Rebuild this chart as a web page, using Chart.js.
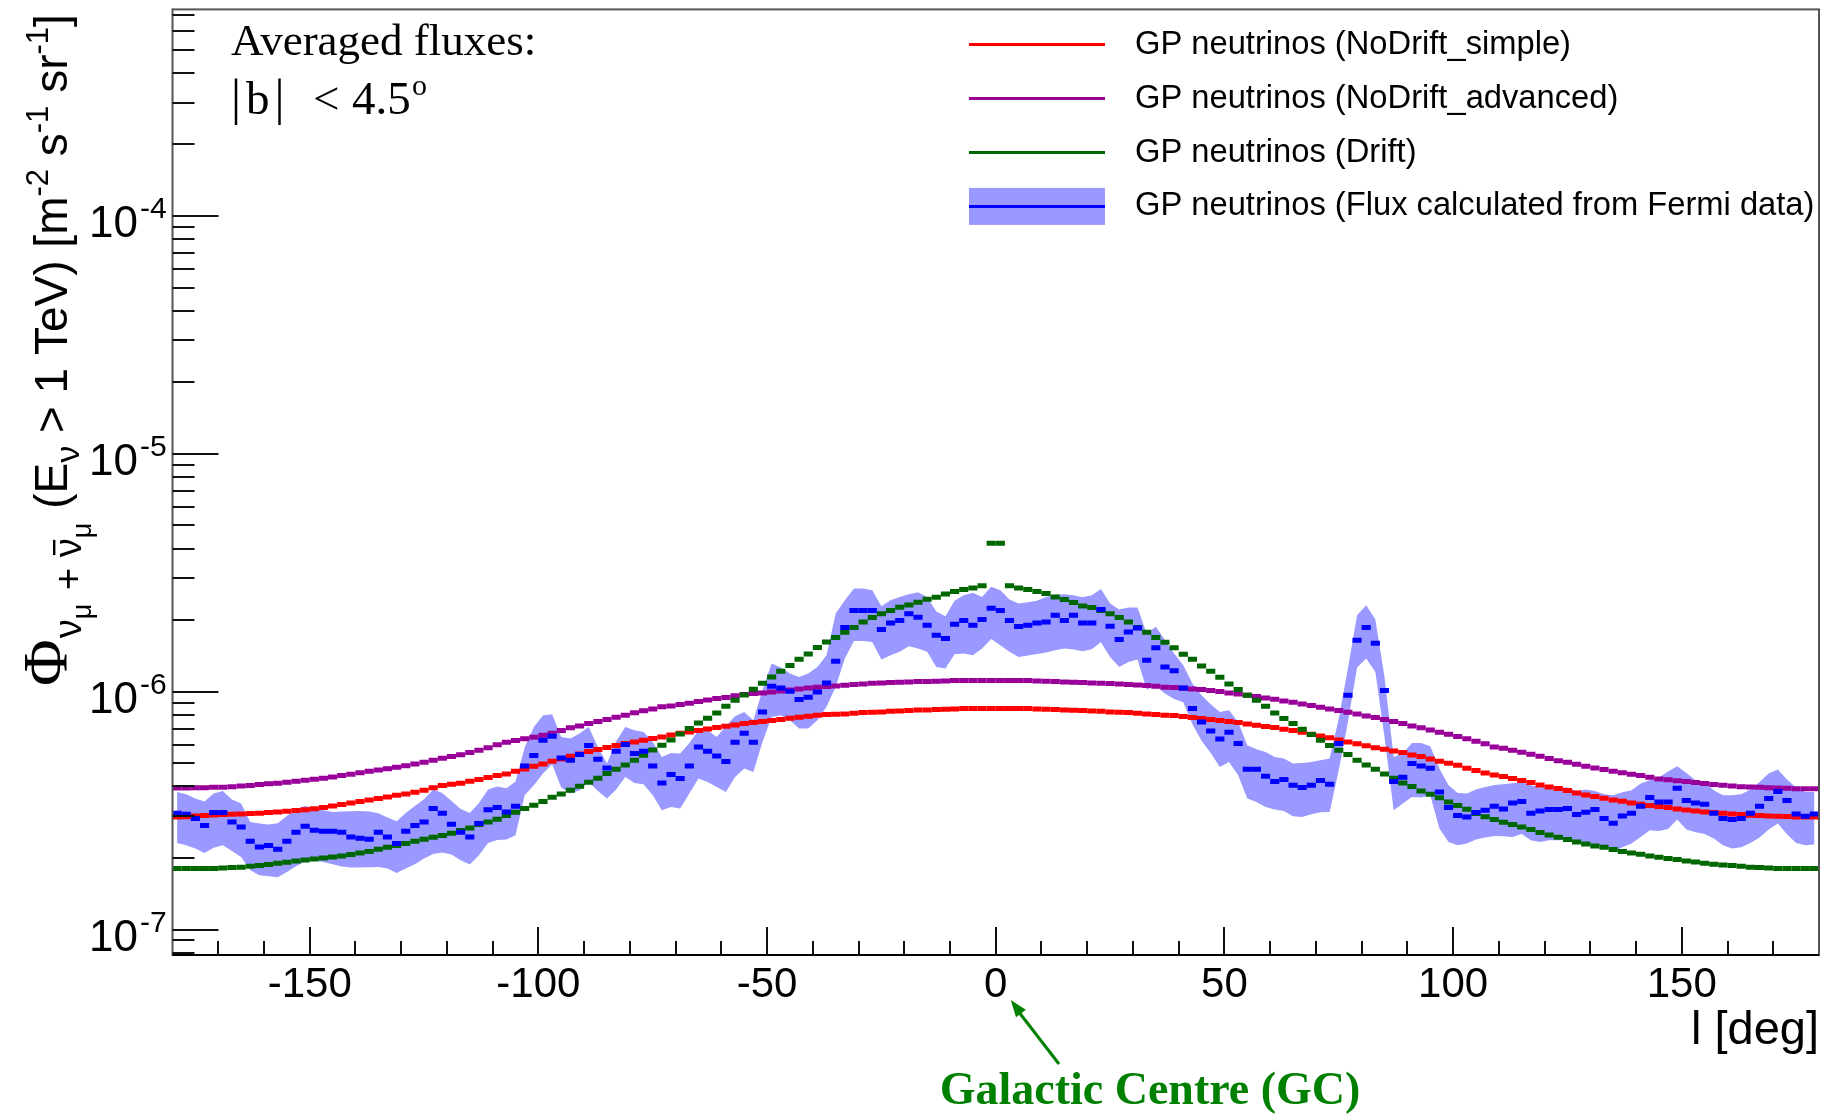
<!DOCTYPE html>
<html><head><meta charset="utf-8">
<script src="https://cdn.jsdelivr.net/npm/chart.js@4/dist/chart.umd.min.js"></script>
<style>html,body{margin:0;padding:0;background:#fff;overflow:hidden}#wrap{position:relative;width:1839px;height:1116px}</style>
</head><body><div id="wrap"><canvas id="c"></canvas></div>
<script>
// Galactic longitude bin centres [deg] (2 deg bins)
const longitudeDeg = [
-179,-177,-175,-173,-171,-169,-167,-165,-163,-161,-159,-157,-155,-153,-151,-149,-147,-145,-143,-141,
-139,-137,-135,-133,-131,-129,-127,-125,-123,-121,-119,-117,-115,-113,-111,-109,-107,-105,-103,-101,
-99,-97,-95,-93,-91,-89,-87,-85,-83,-81,-79,-77,-75,-73,-71,-69,-67,-65,-63,-61,
-59,-57,-55,-53,-51,-49,-47,-45,-43,-41,-39,-37,-35,-33,-31,-29,-27,-25,-23,-21,
-19,-17,-15,-13,-11,-9,-7,-5,-3,-1,1,3,5,7,9,11,13,15,17,19,
21,23,25,27,29,31,33,35,37,39,41,43,45,47,49,51,53,55,57,59,
61,63,65,67,69,71,73,75,77,79,81,83,85,87,89,91,93,95,97,99,
101,103,105,107,109,111,113,115,117,119,121,123,125,127,129,131,133,135,137,139,
141,143,145,147,149,151,153,155,157,159,161,163,165,167,169,171,173,175,177,179];

// GP neutrinos (NoDrift_simple) [m^-2 s^-1 sr^-1]
const noDriftSimple = [
2.976e-7,2.985e-7,3.005e-7,3.015e-7,3.035e-7,3.045e-7,3.055e-7,3.065e-7,3.075e-7,3.085e-7,3.105e-7,3.125e-7,
3.146e-7,3.166e-7,3.187e-7,3.218e-7,3.259e-7,3.312e-7,3.355e-7,3.409e-7,3.454e-7,3.510e-7,3.555e-7,3.613e-7,
3.672e-7,3.720e-7,3.781e-7,3.855e-7,3.943e-7,4.033e-7,4.08e-7,4.12e-7,4.20e-7,4.28e-7,4.36e-7,4.44e-7,
4.513e-7,4.631e-7,4.737e-7,4.861e-7,4.972e-7,5.101e-7,5.219e-7,5.354e-7,5.476e-7,5.603e-7,5.713e-7,5.824e-7,
5.938e-7,6.053e-7,6.152e-7,6.252e-7,6.353e-7,6.457e-7,6.584e-7,6.691e-7,6.778e-7,6.866e-7,6.978e-7,7.069e-7,
7.161e-7,7.254e-7,7.348e-7,7.420e-7,7.492e-7,7.564e-7,7.638e-7,7.738e-7,7.813e-7,7.889e-7,7.966e-7,8.017e-7,
8.043e-7,8.069e-7,8.121e-7,8.173e-7,8.200e-7,8.226e-7,8.279e-7,8.306e-7,8.333e-7,8.387e-7,8.387e-7,8.414e-7,
8.441e-7,8.469e-7,8.496e-7,8.496e-7,8.496e-7,8.496e-7,8.496e-7,8.496e-7,8.496e-7,8.496e-7,8.469e-7,8.441e-7,
8.414e-7,8.387e-7,8.360e-7,8.333e-7,8.306e-7,8.279e-7,8.226e-7,8.200e-7,8.173e-7,8.121e-7,8.069e-7,8.017e-7,
7.966e-7,7.940e-7,7.863e-7,7.787e-7,7.712e-7,7.638e-7,7.564e-7,7.492e-7,7.420e-7,7.324e-7,7.230e-7,7.138e-7,
7.069e-7,6.956e-7,6.866e-7,6.757e-7,6.628e-7,6.522e-7,6.40e-7,6.27e-7,6.15e-7,6.04e-7,5.93e-7,5.82e-7,
5.73e-7,5.64e-7,5.548e-7,5.425e-7,5.338e-7,5.219e-7,5.103e-7,5.004e-7,4.909e-7,4.769e-7,4.662e-7,4.558e-7,
4.470e-7,4.398e-7,4.313e-7,4.230e-7,4.150e-7,4.058e-7,3.980e-7,3.916e-7,3.841e-7,3.755e-7,3.683e-7,3.624e-7,
3.566e-7,3.509e-7,3.464e-7,3.408e-7,3.365e-7,3.322e-7,3.289e-7,3.258e-7,3.216e-7,3.185e-7,3.154e-7,3.124e-7,
3.104e-7,3.084e-7,3.064e-7,3.045e-7,3.025e-7,3.015e-7,3.005e-7,2.996e-7,2.986e-7,2.976e-7,2.976e-7,2.976e-7];

// GP neutrinos (NoDrift_advanced)
const noDriftAdvanced = [
3.94e-7,3.94e-7,3.95e-7,3.95e-7,3.97e-7,3.97e-7,3.99e-7,4.02e-7,4.03e-7,4.07e-7,4.10e-7,4.12e-7,
4.16e-7,4.20e-7,4.24e-7,4.29e-7,4.33e-7,4.38e-7,4.44e-7,4.50e-7,4.56e-7,4.63e-7,4.69e-7,4.75e-7,
4.82e-7,4.89e-7,4.97e-7,5.05e-7,5.15e-7,5.25e-7,5.34e-7,5.44e-7,5.55e-7,5.68e-7,5.82e-7,5.98e-7,
6.13e-7,6.23e-7,6.34e-7,6.44e-7,6.56e-7,6.69e-7,6.87e-7,7.05e-7,7.18e-7,7.35e-7,7.49e-7,7.64e-7,
7.81e-7,7.96e-7,8.15e-7,8.31e-7,8.47e-7,8.64e-7,8.72e-7,8.83e-7,8.95e-7,9.09e-7,9.24e-7,9.36e-7,
9.45e-7,9.63e-7,9.73e-7,9.82e-7,9.89e-7,9.98e-7,10.08e-7,10.18e-7,10.28e-7,10.38e-7,10.45e-7,10.51e-7,
10.58e-7,10.65e-7,10.72e-7,10.79e-7,10.86e-7,10.89e-7,10.93e-7,10.96e-7,11.00e-7,11.03e-7,11.03e-7,11.07e-7,
11.10e-7,11.14e-7,11.14e-7,11.14e-7,11.14e-7,11.14e-7,11.14e-7,11.14e-7,11.14e-7,11.14e-7,11.10e-7,11.07e-7,
11.03e-7,11.00e-7,10.96e-7,10.93e-7,10.89e-7,10.86e-7,10.82e-7,10.79e-7,10.72e-7,10.68e-7,10.61e-7,10.55e-7,
10.45e-7,10.41e-7,10.34e-7,10.28e-7,10.21e-7,10.11e-7,10.02e-7,9.89e-7,9.79e-7,9.67e-7,9.54e-7,9.42e-7,
9.30e-7,9.15e-7,9.03e-7,8.89e-7,8.75e-7,8.61e-7,8.47e-7,8.33e-7,8.20e-7,8.07e-7,7.91e-7,7.79e-7,
7.64e-7,7.49e-7,7.35e-7,7.18e-7,7.05e-7,6.91e-7,6.76e-7,6.63e-7,6.48e-7,6.34e-7,6.19e-7,6.05e-7,
5.86e-7,5.78e-7,5.68e-7,5.57e-7,5.46e-7,5.36e-7,5.24e-7,5.13e-7,5.05e-7,4.96e-7,4.86e-7,4.78e-7,
4.71e-7,4.63e-7,4.56e-7,4.50e-7,4.44e-7,4.37e-7,4.30e-7,4.27e-7,4.22e-7,4.19e-7,4.15e-7,4.11e-7,
4.07e-7,4.04e-7,4.02e-7,3.99e-7,3.98e-7,3.97e-7,3.95e-7,3.94e-7,3.93e-7,3.91e-7,3.91e-7,3.91e-7];

// GP neutrinos (Drift)
const drift = [
1.805e-7,1.805e-7,1.805e-7,1.805e-7,1.805e-7,1.816e-7,1.822e-7,1.828e-7,1.846e-7,1.858e-7,1.876e-7,1.900e-7,
1.919e-7,1.944e-7,1.963e-7,1.982e-7,2.001e-7,2.021e-7,2.040e-7,2.067e-7,2.101e-7,2.128e-7,2.177e-7,2.219e-7,
2.255e-7,2.299e-7,2.352e-7,2.398e-7,2.445e-7,2.485e-7,2.541e-7,2.608e-7,2.676e-7,2.763e-7,2.836e-7,2.910e-7,
3.015e-7,3.114e-7,3.226e-7,3.332e-7,3.452e-7,3.600e-7,3.718e-7,3.852e-7,4.004e-7,4.162e-7,4.327e-7,4.528e-7,
4.722e-7,4.924e-7,5.152e-7,5.408e-7,5.694e-7,5.957e-7,6.272e-7,6.647e-7,7.000e-7,7.395e-7,7.738e-7,8.147e-7,
8.690e-7,9.211e-7,9.698e-7,10.24e-7,10.86e-7,11.54e-7,12.20e-7,12.88e-7,13.70e-7,14.42e-7,15.34e-7,16.20e-7,
16.90e-7,17.79e-7,18.61e-7,19.66e-7,20.50e-7,21.25e-7,21.94e-7,22.66e-7,23.18e-7,23.79e-7,24.49e-7,24.97e-7,
25.78e-7,26.38e-7,26.89e-7,27.33e-7,27.87e-7,42.12e-7,42.12e-7,27.87e-7,27.33e-7,26.89e-7,26.38e-7,25.87e-7,
25.05e-7,24.41e-7,23.71e-7,22.96e-7,22.59e-7,21.94e-7,21.25e-7,20.50e-7,19.66e-7,18.61e-7,17.79e-7,16.90e-7,
16.15e-7,15.29e-7,14.38e-7,13.70e-7,12.84e-7,12.20e-7,11.51e-7,10.79e-7,10.21e-7,9.667e-7,9.211e-7,8.690e-7,
8.147e-7,7.713e-7,7.348e-7,6.955e-7,6.604e-7,6.252e-7,5.938e-7,5.675e-7,5.443e-7,5.152e-7,4.924e-7,4.722e-7,
4.513e-7,4.328e-7,4.136e-7,3.992e-7,3.828e-7,3.707e-7,3.587e-7,3.441e-7,3.322e-7,3.205e-7,3.08e-7,2.98e-7,
2.90e-7,2.83e-7,2.763e-7,2.702e-7,2.633e-7,2.557e-7,2.500e-7,2.445e-7,2.390e-7,2.336e-7,2.291e-7,2.247e-7,
2.219e-7,2.169e-7,2.128e-7,2.101e-7,2.074e-7,2.041e-7,2.015e-7,1.988e-7,1.969e-7,1.944e-7,1.925e-7,1.900e-7,
1.882e-7,1.870e-7,1.858e-7,1.846e-7,1.828e-7,1.822e-7,1.816e-7,1.805e-7,1.805e-7,1.805e-7,1.805e-7,1.805e-7];

// GP neutrinos (Flux calculated from Fermi data): central value, band upper, band lower
const fermiFlux = [
3.085e-7,3.055e-7,2.928e-7,2.737e-7,3.105e-7,3.105e-7,2.836e-7,2.702e-7,2.352e-7,2.226e-7,2.255e-7,2.177e-7,
2.352e-7,2.566e-7,2.719e-7,2.616e-7,2.591e-7,2.591e-7,2.566e-7,2.453e-7,2.421e-7,2.398e-7,2.566e-7,2.453e-7,
2.299e-7,2.591e-7,2.737e-7,2.836e-7,3.226e-7,3.085e-7,2.773e-7,2.566e-7,2.453e-7,2.791e-7,3.187e-7,3.259e-7,
3.124e-7,3.300e-7,4.877e-7,5.390e-7,6.252e-7,6.503e-7,5.271e-7,5.152e-7,5.443e-7,5.938e-7,5.201e-7,4.782e-7,
5.621e-7,5.996e-7,5.495e-7,5.621e-7,4.877e-7,4.136e-7,4.484e-7,4.314e-7,4.877e-7,5.861e-7,5.621e-7,5.373e-7,
5.085e-7,6.133e-7,6.691e-7,6.133e-7,8.226e-7,10.55e-7,10.38e-7,10.05e-7,9.27e-7,9.48e-7,9.98e-7,10.89e-7,
13.44e-7,18.61e-7,21.94e-7,21.94e-7,21.94e-7,18.25e-7,19.47e-7,19.92e-7,21.25e-7,20.57e-7,19.04e-7,17.28e-7,
16.73e-7,19.22e-7,19.92e-7,19.04e-7,20.12e-7,22.44e-7,21.94e-7,19.92e-7,18.79e-7,19.04e-7,19.47e-7,19.66e-7,
20.98e-7,19.92e-7,20.98e-7,19.47e-7,19.47e-7,22.15e-7,18.85e-7,16.57e-7,17.85e-7,18.55e-7,13.57e-7,15.29e-7,
12.72e-7,12.24e-7,10.38e-7,8.496e-7,7.468e-7,6.844e-7,6.335e-7,6.756e-7,6.053e-7,4.722e-7,4.722e-7,4.413e-7,
4.190e-7,4.272e-7,4.045e-7,3.954e-7,4.045e-7,4.230e-7,4.083e-7,6.053e-7,9.667e-7,16.47e-7,18.61e-7,15.99e-7,
10.11e-7,4.190e-7,4.370e-7,4.988e-7,4.877e-7,4.768e-7,3.792e-7,3.258e-7,3.015e-7,2.976e-7,3.104e-7,3.175e-7,
3.300e-7,3.216e-7,3.408e-7,3.452e-7,3.083e-7,3.154e-7,3.195e-7,3.195e-7,3.226e-7,3.045e-7,3.114e-7,3.195e-7,
2.929e-7,2.800e-7,3.005e-7,3.083e-7,3.300e-7,3.589e-7,3.441e-7,3.441e-7,3.929e-7,3.486e-7,3.408e-7,3.365e-7,
3.083e-7,2.929e-7,2.901e-7,2.929e-7,3.083e-7,3.300e-7,3.554e-7,3.804e-7,3.486e-7,3.064e-7,2.996e-7,3.064e-7];

const fermiUpper = [
3.792e-7,3.707e-7,3.554e-7,3.452e-7,3.731e-7,3.828e-7,3.520e-7,3.386e-7,2.836e-7,2.791e-7,2.763e-7,2.799e-7,
3.005e-7,3.195e-7,3.311e-7,3.247e-7,3.175e-7,3.124e-7,3.134e-7,3.144e-7,3.154e-7,3.134e-7,3.084e-7,2.957e-7,
2.854e-7,3.094e-7,3.311e-7,3.531e-7,3.878e-7,3.755e-7,3.474e-7,3.216e-7,3.094e-7,3.408e-7,3.878e-7,3.992e-7,
3.929e-7,4.190e-7,5.824e-7,7.114e-7,7.940e-7,8.043e-7,6.457e-7,6.353e-7,6.671e-7,7.114e-7,5.861e-7,4.988e-7,
6.192e-7,7.114e-7,6.889e-7,6.778e-7,6.152e-7,5.320e-7,5.531e-7,5.495e-7,6.093e-7,6.889e-7,6.889e-7,6.457e-7,
7.183e-7,7.889e-7,8.226e-7,7.589e-7,10.15e-7,13.13e-7,12.64e-7,11.93e-7,11.54e-7,11.93e-7,12.72e-7,14.24e-7,
21.32e-7,24.25e-7,27.15e-7,27.15e-7,26.72e-7,22.89e-7,24.25e-7,25.05e-7,25.70e-7,26.20e-7,25.05e-7,21.74e-7,
20.77e-7,24.10e-7,25.46e-7,26.04e-7,25.05e-7,27.60e-7,26.72e-7,24.41e-7,23.49e-7,23.79e-7,24.10e-7,25.05e-7,
25.54e-7,25.70e-7,25.46e-7,24.97e-7,25.46e-7,27.06e-7,23.49e-7,22.16e-7,22.59e-7,22.59e-7,17.57e-7,18.74e-7,
16.47e-7,14.47e-7,12.93e-7,10.82e-7,9.667e-7,8.861e-7,8.226e-7,8.360e-7,7.468e-7,5.959e-7,5.732e-7,5.585e-7,
5.321e-7,5.236e-7,4.988e-7,5.020e-7,5.069e-7,5.152e-7,5.236e-7,7.713e-7,12.52e-7,20.98e-7,23.12e-7,20.12e-7,
11.54e-7,5.321e-7,5.497e-7,6.095e-7,6.095e-7,5.902e-7,4.753e-7,4.045e-7,3.756e-7,3.731e-7,3.878e-7,3.981e-7,
4.058e-7,4.083e-7,4.123e-7,4.163e-7,4.045e-7,3.954e-7,4.005e-7,3.954e-7,3.954e-7,3.828e-7,3.877e-7,3.828e-7,
3.707e-7,3.671e-7,3.779e-7,3.853e-7,4.110e-7,4.245e-7,4.355e-7,4.616e-7,4.861e-7,4.557e-7,4.245e-7,4.150e-7,
3.853e-7,3.671e-7,3.671e-7,3.707e-7,3.877e-7,4.176e-7,4.528e-7,4.706e-7,4.272e-7,3.954e-7,3.792e-7,3.792e-7];

const fermiLower = [
2.314e-7,2.262e-7,2.190e-7,2.101e-7,2.211e-7,2.262e-7,2.141e-7,2.020e-7,1.776e-7,1.692e-7,1.676e-7,1.660e-7,
1.748e-7,1.846e-7,1.931e-7,1.950e-7,1.925e-7,1.882e-7,1.840e-7,1.822e-7,1.822e-7,1.828e-7,1.834e-7,1.805e-7,
1.730e-7,1.805e-7,1.882e-7,1.988e-7,2.080e-7,2.107e-7,2.067e-7,1.956e-7,1.876e-7,2.054e-7,2.314e-7,2.382e-7,
2.390e-7,2.492e-7,3.671e-7,4.045e-7,4.528e-7,4.957e-7,3.955e-7,3.731e-7,3.853e-7,4.177e-7,3.829e-7,3.554e-7,
3.878e-7,4.384e-7,4.137e-7,4.084e-7,3.671e-7,3.175e-7,3.279e-7,3.226e-7,3.731e-7,4.314e-7,4.177e-7,3.981e-7,
3.793e-7,4.384e-7,4.753e-7,4.603e-7,6.152e-7,7.836e-7,7.963e-7,7.589e-7,7.000e-7,7.000e-7,7.589e-7,8.637e-7,
10.48e-7,13.79e-7,16.36e-7,16.36e-7,16.20e-7,13.66e-7,14.24e-7,14.71e-7,15.54e-7,15.19e-7,14.71e-7,12.72e-7,
12.51e-7,14.38e-7,14.47e-7,14.24e-7,15.19e-7,16.68e-7,15.69e-7,14.71e-7,14.01e-7,14.19e-7,14.42e-7,14.61e-7,
14.95e-7,15.19e-7,15.04e-7,14.80e-7,15.09e-7,16.15e-7,14.01e-7,12.72e-7,13.35e-7,13.66e-7,10.21e-7,10.58e-7,
9.824e-7,9.331e-7,9.035e-7,7.302e-7,6.215e-7,5.533e-7,4.831e-7,5.070e-7,4.457e-7,3.554e-7,3.441e-7,3.280e-7,
3.196e-7,3.155e-7,2.996e-7,2.977e-7,3.055e-7,3.115e-7,3.125e-7,4.676e-7,7.468e-7,12.64e-7,13.79e-7,12.12e-7,
6.460e-7,3.175e-7,3.386e-7,3.613e-7,3.589e-7,3.672e-7,2.659e-7,2.337e-7,2.262e-7,2.299e-7,2.390e-7,2.437e-7,
2.476e-7,2.468e-7,2.452e-7,2.525e-7,2.374e-7,2.336e-7,2.374e-7,2.374e-7,2.405e-7,2.314e-7,2.270e-7,2.262e-7,
2.226e-7,2.121e-7,2.219e-7,2.299e-7,2.452e-7,2.616e-7,2.599e-7,2.650e-7,2.901e-7,2.633e-7,2.567e-7,2.525e-7,
2.413e-7,2.262e-7,2.190e-7,2.219e-7,2.314e-7,2.437e-7,2.633e-7,2.791e-7,2.517e-7,2.314e-7,2.262e-7,2.277e-7];

// axis ticks / labels
const xTickLabels = [-150, -100, -50, 0, 50, 100, 150];
const yDecadeExponents = [-7, -6, -5, -4];
const seriesLabels = [
  'GP neutrinos (NoDrift_simple)',
  'GP neutrinos (NoDrift_advanced)',
  'GP neutrinos (Drift)',
  'GP neutrinos (Flux calculated from Fermi data)'
];

[['longitudeDeg',longitudeDeg],['noDriftSimple',noDriftSimple],['noDriftAdvanced',noDriftAdvanced],['drift',drift],
 ['fermiFlux',fermiFlux],['fermiUpper',fermiUpper],['fermiLower',fermiLower]].forEach(([n,a])=>{
  if (a.length !== 180) throw new Error(n + ' has ' + a.length + ' entries');
});

const SANS = '"Liberation Sans", Arial, Helvetica, sans-serif';
const SERIF = '"Liberation Serif", "Times New Roman", serif';
const BIN_WIDTH_DEG = 2;
const COL = {red:'#ff0000', purple:'#990099', green:'#006600', blue:'#0000ff', band:'#9999ff', gc:'#008000'};

const pts = arr => longitudeDeg.map((x, i) => ({x, y: arr[i]}));
const halfBinPx = c => { const s = c.chart.scales.x; return Math.abs(s.getPixelForValue(BIN_WIDTH_DEG) - s.getPixelForValue(0)) / 2; };
const dashSet = (label, arr, color, order) => ({
  label, data: pts(arr), showLine: false, order,
  pointStyle: 'line', pointRadius: halfBinPx, pointHoverRadius: halfBinPx,
  pointBorderWidth: 5, pointHoverBorderWidth: 5,
  pointBorderColor: color, borderColor: color, pointBackgroundColor: color
});

function runs(ctx, list, x0, y0) {
  let x = x0;
  for (const r of list) {
    ctx.font = r.f;
    const w = ctx.measureText(r.t).width;
    ctx.fillText(r.t, x, y0 + (r.dy || 0));
    if (r.bar) ctx.fillRect(x + w * 0.12, y0 + (r.dy || 0) - r.bar, w * 0.8, 2.4);
    x += w + (r.gap || 0);
  }
  return x;
}

const rootDecor = {
  id: 'rootDecor',
  afterDraw(chart) {
    const {ctx, chartArea: a, scales: {x, y}} = chart;
    const seg = (x1, y1, x2, y2) => { ctx.beginPath(); ctx.moveTo(x1, y1); ctx.lineTo(x2, y2); ctx.stroke(); };
    ctx.save();
    // frame
    ctx.lineWidth = 2; ctx.strokeStyle = '#555';
    ctx.strokeRect(a.left, a.top, a.right - a.left, a.bottom - a.top);
    ctx.strokeStyle = '#000';
    seg(a.left, a.bottom, a.right, a.bottom);
    // y ticks (major decades + minor)
    ctx.lineWidth = 2; ctx.strokeStyle = '#111';
    for (let e = -8; e <= -3; e++) for (let m = 1; m <= 9; m++) {
      const v = m * Math.pow(10, e);
      if (v < y.min || v > y.max) continue;
      const py = Math.round(y.getPixelForValue(v));
      seg(a.left, py, a.left + (m === 1 ? 46 : 22), py);
    }
    // x ticks
    for (let d = -170; d <= 170; d += 10) {
      const px = Math.round(x.getPixelForValue(d));
      seg(px, a.bottom, px, a.bottom - (d % 50 === 0 ? 28 : 14));
    }
    // x labels
    ctx.fillStyle = '#000'; ctx.textAlign = 'center'; ctx.textBaseline = 'alphabetic';
    ctx.font = '42px ' + SANS;
    xTickLabels.forEach(v => ctx.fillText(String(v), x.getPixelForValue(v), a.bottom + 42));
    // y labels 10^n
    yDecadeExponents.forEach(e => {
      const py = y.getPixelForValue(Math.pow(10, e));
      ctx.textAlign = 'right'; ctx.font = '44px ' + SANS;
      ctx.fillText('10', 138, py + 21);
      ctx.textAlign = 'left'; ctx.font = '30px ' + SANS;
      ctx.fillText(String(e), 140, py + 2);
    });
    // x title
    ctx.textAlign = 'right'; ctx.font = '47px ' + SANS;
    ctx.fillText('l [deg]', a.right, 1044);
    // y title (rotated)
    ctx.save();
    ctx.translate(67, 686); ctx.rotate(-Math.PI / 2);
    ctx.textAlign = 'left';
    const M = '46px ' + SANS, S = '38px ' + SANS, SS = '27px ' + SANS, SUP = '31px ' + SANS;
    runs(ctx, [
      {t: 'Φ', f: '64px ' + SERIF, gap: 1},
      {t: 'ν', f: S, dy: 14}, {t: 'μ', f: SS, dy: 24, gap: 3},
      {t: ' + ', f: S, dy: 14},
      {t: 'ν', f: S, dy: 14, bar: 28}, {t: 'μ', f: SS, dy: 24, gap: 14},
      {t: '(E', f: M}, {t: 'ν', f: '34px ' + SANS, dy: 12},
      {t: ' > 1 TeV) [m', f: M}, {t: '-2', f: SUP, dy: -19},
      {t: ' s', f: M}, {t: '-1', f: SUP, dy: -19},
      {t: ' sr', f: M}, {t: '-1', f: SUP, dy: -19},
      {t: ']', f: M}
    ], 0, 0);
    ctx.restore();
    // legend
    const rows = [44.6, 98.5, 152.5, 206.4];
    const cols = [COL.red, COL.purple, COL.green, COL.blue];
    const lx1 = 969, lx2 = 1105;
    ctx.fillStyle = COL.band; ctx.fillRect(lx1, rows[3] - 18.5, lx2 - lx1, 37);
    ctx.lineWidth = 3;
    rows.forEach((ry, i) => {
      ctx.strokeStyle = cols[i]; seg(lx1, ry, lx2, ry);
      ctx.fillStyle = '#000'; ctx.font = '32.7px ' + SANS; ctx.textAlign = 'left'; ctx.textBaseline = 'middle';
      ctx.fillText(seriesLabels[i], 1135, ry);
    });
    ctx.textBaseline = 'alphabetic';
    // annotation text
    ctx.fillStyle = '#000'; ctx.textAlign = 'left';
    ctx.font = '45px ' + SERIF;
    ctx.fillText('Averaged fluxes:', 231, 55);
    runs(ctx, [
      {t: '|', f: '50px ' + SERIF, gap: 5}, {t: 'b', f: '47px ' + SERIF, gap: 5}, {t: '|', f: '50px ' + SERIF}
    ], 231, 114);
    ctx.font = '47px ' + SERIF;
    ctx.fillText('<', 313, 114);
    ctx.fillText('4.5', 352, 114);
    ctx.font = '30px ' + SERIF; ctx.fillText('o', 412, 95);
    // Galactic Centre arrow + label
    ctx.strokeStyle = COL.gc; ctx.fillStyle = COL.gc; ctx.lineWidth = 3;
    const tx = x.getPixelForValue(0) + 15, ty = a.bottom + 45, sx = 1059, sy = 1064;
    seg(sx, sy, tx + 5, ty + 8);
    const ang = Math.atan2(ty - sy, tx - sx);
    ctx.beginPath(); ctx.moveTo(tx, ty);
    ctx.lineTo(tx - 18 * Math.cos(ang - 0.35), ty - 18 * Math.sin(ang - 0.35));
    ctx.lineTo(tx - 18 * Math.cos(ang + 0.35), ty - 18 * Math.sin(ang + 0.35));
    ctx.closePath(); ctx.fill();
    ctx.textAlign = 'center'; ctx.font = 'bold 46px ' + SERIF;
    ctx.fillText('Galactic Centre (GC)', 1150, 1104);
    ctx.restore();
  }
};

new Chart(document.getElementById('c'), {
  type: 'line',
  data: { datasets: [
    {label: 'band upper', data: pts(fermiUpper), fill: '+1', backgroundColor: COL.band, borderColor: 'rgba(0,0,0,0)', borderWidth: 0, pointRadius: 0, tension: 0, order: 10},
    {label: 'band lower', data: pts(fermiLower), fill: false, backgroundColor: COL.band, borderColor: 'rgba(0,0,0,0)', borderWidth: 0, pointRadius: 0, tension: 0, order: 10},
    dashSet(seriesLabels[0], noDriftSimple, COL.red, 4),
    dashSet(seriesLabels[1], noDriftAdvanced, COL.purple, 3),
    dashSet(seriesLabels[2], drift, COL.green, 2),
    dashSet(seriesLabels[3], fermiFlux, COL.blue, 1)
  ]},
  options: {
    responsive: true, maintainAspectRatio: false, animation: false, events: [],
    layout: {padding: {top: 9.4, right: 20, left: 0, bottom: 0}},
    plugins: {legend: {display: false}, tooltip: {enabled: false}},
    scales: {
      x: {type: 'linear', min: -180, max: 180, grid: {display: false}, border: {display: false}, ticks: {display: false},
          afterFit(s) { s.height = 1116 - 955; }},
      y: {type: 'logarithmic', min: 7.82e-8, max: 7.39e-4, grid: {display: false}, border: {display: false}, ticks: {display: false},
          afterFit(s) { s.width = 172.5; }}
    }
  },
  plugins: [rootDecor]
});
</script></body></html>
